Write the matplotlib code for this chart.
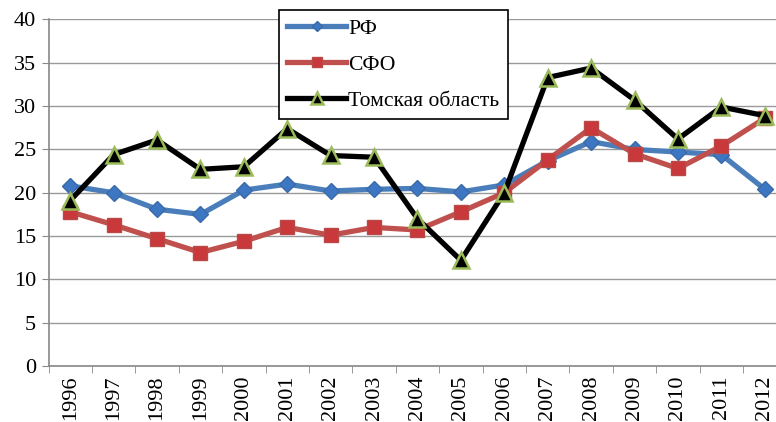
import matplotlib.pyplot as plt

plt.rcParams['font.family'] = ['Liberation Serif', 'DejaVu Serif']

years = ['1996', '1997', '1998', '1999', '2000', '2001', '2002', '2003', '2004',
         '2005', '2006', '2007', '2008', '2009', '2010', '2011', '2012']
rf = [20.8, 20.0, 18.1, 17.5, 20.3, 21.0, 20.2, 20.4, 20.5,
      20.1, 20.9, 23.7, 25.9, 25.0, 24.7, 24.4, 20.4]
sfo = [17.8, 16.3, 14.7, 13.1, 14.4, 16.0, 15.1, 16.0, 15.7,
       17.8, 20.0, 23.8, 27.5, 24.5, 22.8, 25.4, 28.6]
tomsk = [19.1, 24.4, 26.1, 22.7, 23.0, 27.4, 24.3, 24.1, 17.0,
         12.2, 20.0, 33.3, 34.4, 30.7, 26.2, 29.9, 28.9]

fig = plt.figure(figsize=(7.76, 4.22), dpi=100)
ax = fig.add_axes([0.0625, 0.1327, 0.951, 0.8211])

x = range(len(years))
ax.plot(x, rf, color='#4a7ebb', lw=3.8, marker='D', ms=8,
        mfc='#3d76c2', mec='#3a6aa8', label='РФ', zorder=3)
ax.plot(x, sfo, color='#c0504d', lw=3.8, marker='s', ms=10,
        mfc='#c9383a', mec='#b84a48', label='СФО', zorder=4)
ax.plot(x, tomsk, color='black', lw=3.8, marker='^', ms=12,
        mfc='black', mec='#9bbb59', mew=1.8, label='Томская область', zorder=5)

ax.set_xlim(-0.5, len(years) - 0.5)
ax.set_ylim(0, 40)
ax.set_yticks(range(0, 41, 5))
ax.set_xticks(x)
ax.set_xticklabels(years, rotation=90, fontsize=16)
ax.set_xticks([i - 0.5 for i in range(len(years) + 1)], minor=True)
ax.tick_params(axis='x', which='major', length=0, pad=7)
ax.tick_params(axis='x', which='minor', length=5, color='#888888')
ax.tick_params(axis='y', labelsize=16, length=5, color='#888888', pad=4)

ax.grid(axis='y', color='#999999', lw=1)
ax.set_axisbelow(True)
for s in ['top', 'right']:
    ax.spines[s].set_visible(False)
for s in ['left', 'bottom']:
    ax.spines[s].set_color('#888888')
    ax.spines[s].set_linewidth(1.2)

leg = ax.legend(loc='upper left', bbox_to_anchor=(0.312, 1.027), fontsize=15.6,
                frameon=True, fancybox=False, edgecolor='black',
                handlelength=2.7, handletextpad=0.1, labelspacing=0.72,
                borderpad=0.4, borderaxespad=0, markerscale=0.7)
leg.get_frame().set_linewidth(1.2)
leg.get_frame().set_alpha(1)

fig.savefig('out.png', dpi=100)
